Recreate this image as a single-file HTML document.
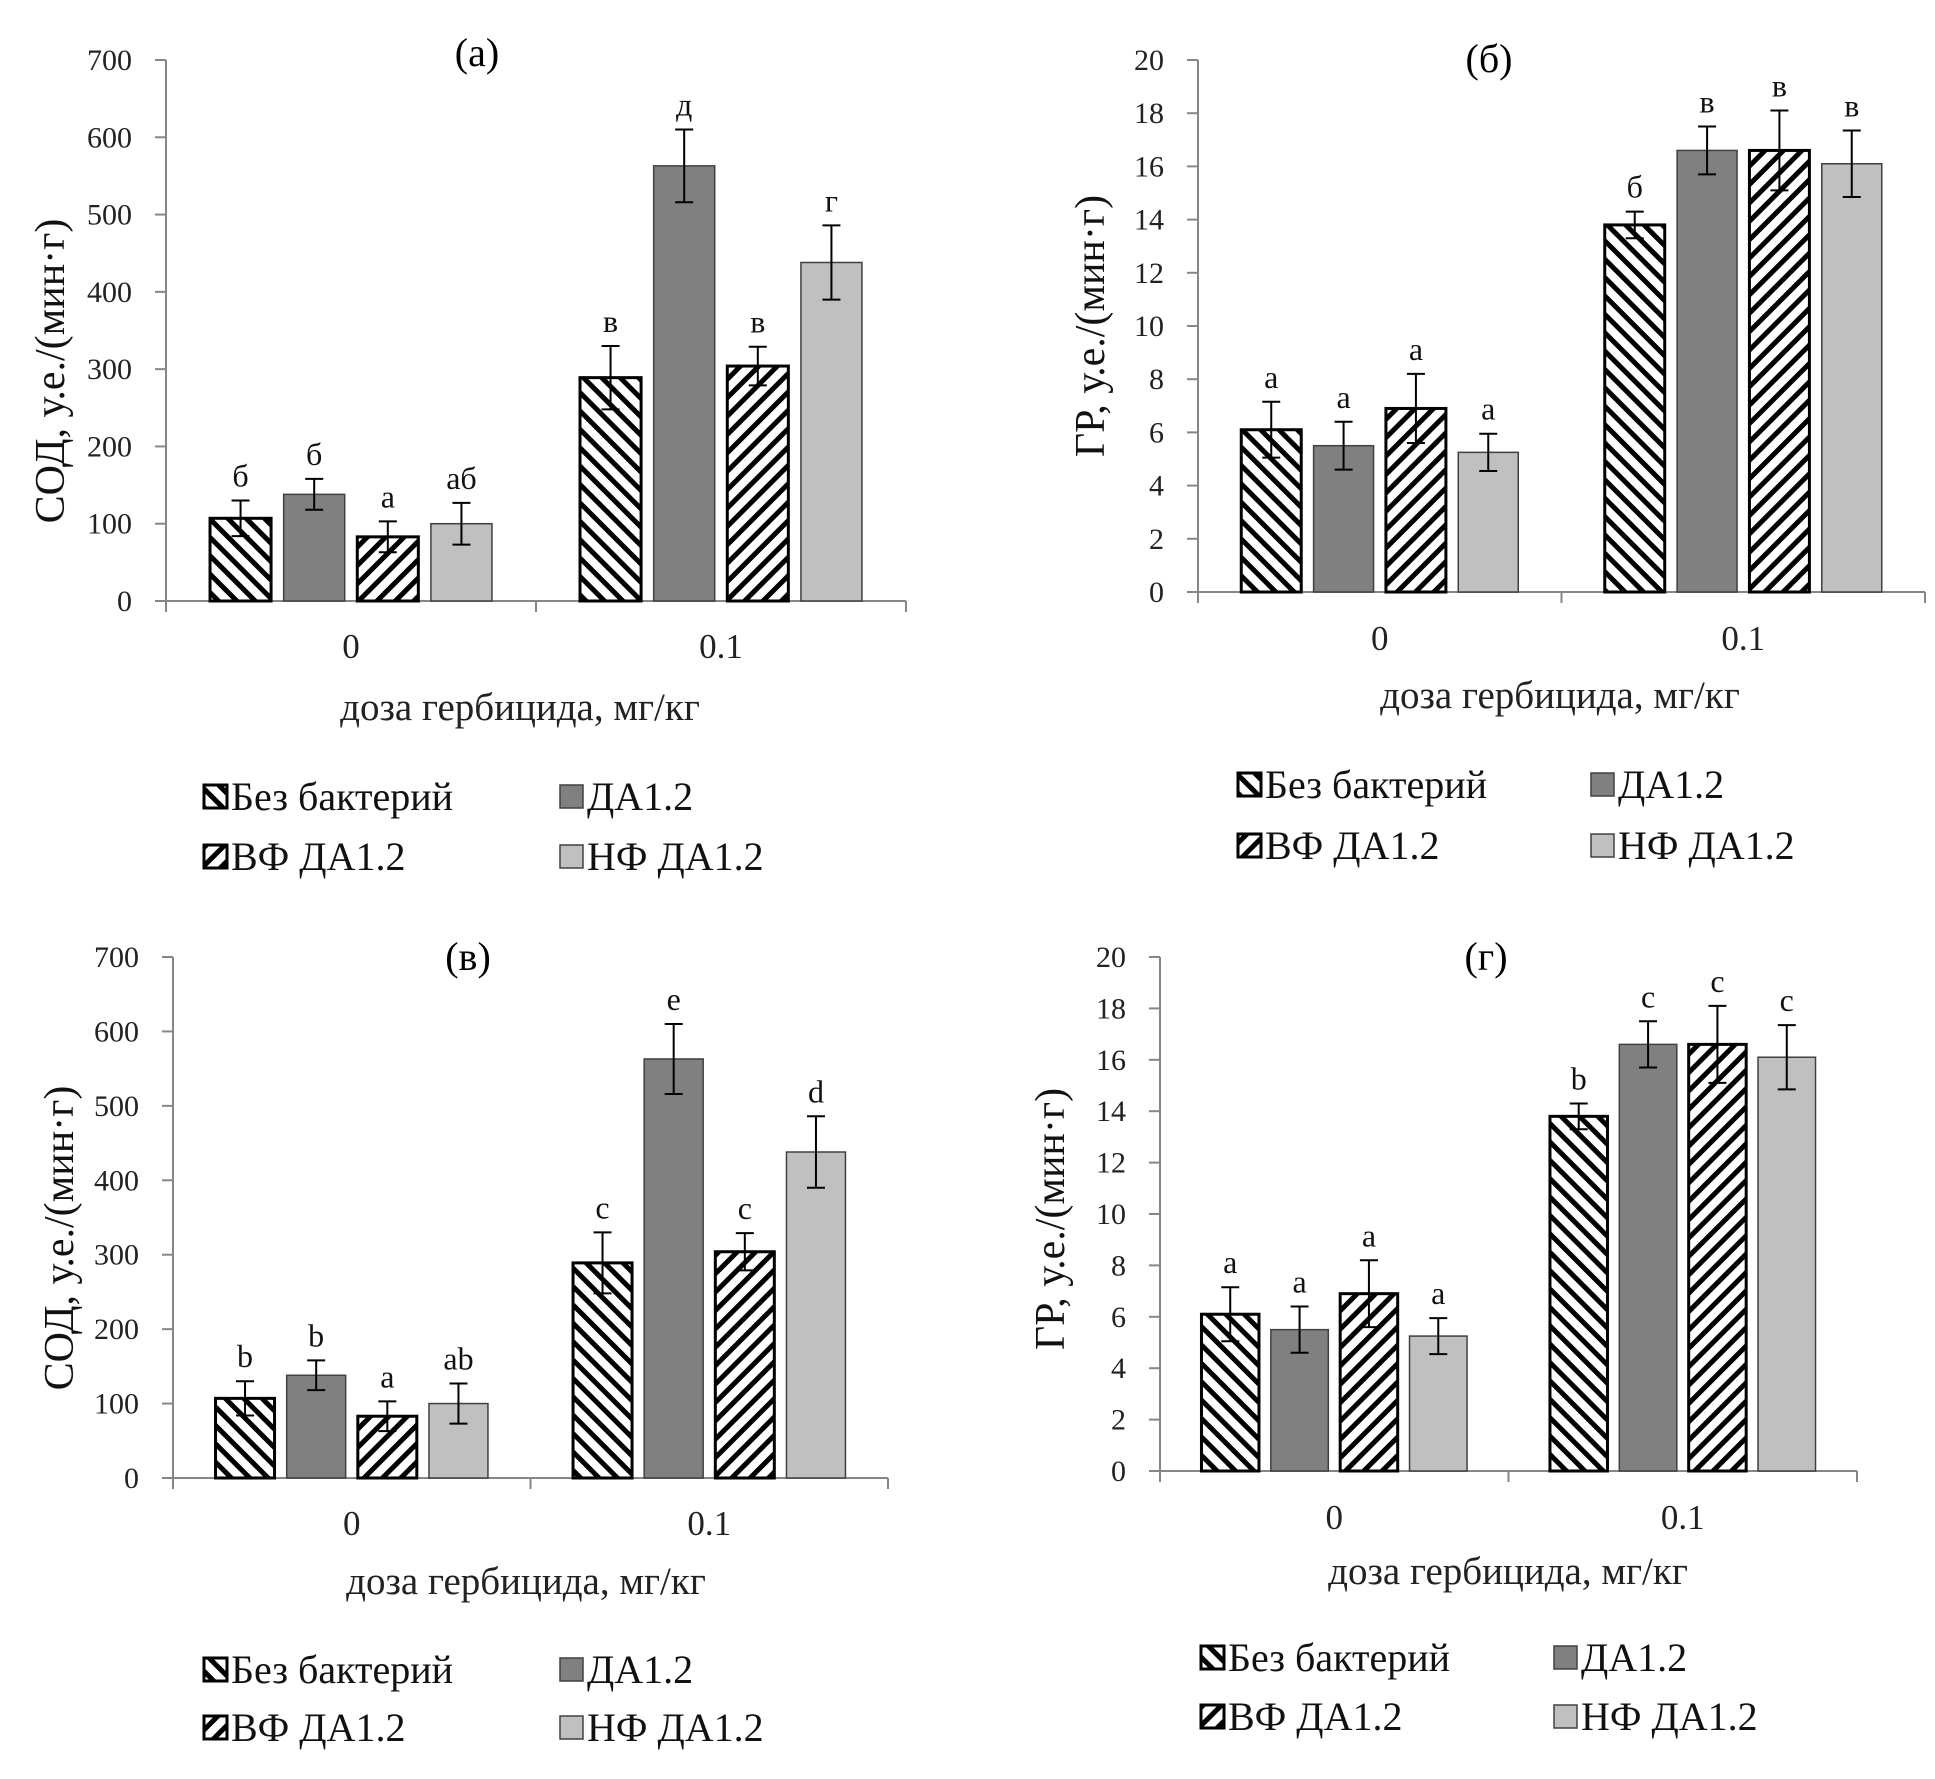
<!DOCTYPE html>
<html><head><meta charset="utf-8"><style>
html,body{margin:0;padding:0;background:#fff;}
svg{display:block;font-family:"Liberation Serif","DejaVu Serif",serif;}
</style></head><body>
<svg id="chart" width="1935" height="1779" viewBox="0 0 1935 1779" xmlns="http://www.w3.org/2000/svg">
<defs>
<pattern id="pBack" patternUnits="userSpaceOnUse" width="13" height="13" patternTransform="rotate(-45)">
<rect width="13" height="13" fill="#fff"/><rect x="0" y="0" width="5" height="13" fill="#000"/></pattern>
<pattern id="pFwd" patternUnits="userSpaceOnUse" width="13" height="13" patternTransform="rotate(45)">
<rect width="13" height="13" fill="#fff"/><rect x="0" y="0" width="5" height="13" fill="#000"/></pattern>
</defs>
</svg>
<script>
const categories = ["0", "0.1"];
const seriesNames = ["Без бактерий", "ДА1.2", "ВФ ДА1.2", "НФ ДА1.2"];
const sodValues = [[107, 138, 83, 100], [289, 563, 304, 438]];
const sodErrors = [[23, 20, 20, 27], [41, 47, 25, 48]];
const grValues = [[6.1, 5.5, 6.9, 5.25], [13.8, 16.6, 16.6, 16.1]];
const grErrors = [[1.05, 0.9, 1.3, 0.7], [0.5, 0.9, 1.5, 1.25]];
const sodTicks = [0, 100, 200, 300, 400, 500, 600, 700];
const grTicks = [0, 2, 4, 6, 8, 10, 12, 14, 16, 18, 20];
const lettersA = [["б", "б", "а", "аб"], ["в", "д", "в", "г"]];
const lettersB = [["а", "а", "а", "а"], ["б", "в", "в", "в"]];
const lettersC = [["b", "b", "a", "ab"], ["c", "e", "c", "d"]];
const lettersD = [["a", "a", "a", "a"], ["b", "c", "c", "c"]];

const svg = document.getElementById('chart');
const NS = 'http://www.w3.org/2000/svg';
function mk(tag, attrs, parent, text) {
  const e = document.createElementNS(NS, tag);
  for (const k in attrs) e.setAttribute(k, attrs[k]);
  if (text !== undefined) e.textContent = text;
  (parent || svg).appendChild(e);
  return e;
}
const fills = ["url(#pBack)", "#808080", "url(#pFwd)", "#c0c0c0"];
const strokes = ["#000", "#404040", "#000", "#404040"];
const strokeW = [3, 1.5, 3, 1.5];

const panels = [
  {id:'a', title:'(а)', tx:477, ty:66, x0:166, x1:906, y0:601, yTop:60, ticks:sodTicks, max:700, vals:sodValues, errs:sodErrors, letters:lettersA,
   ylab:'СОД, у.е./(мин·г)', ylx:50, yly:371, catY:658, xt:'доза гербицида, мг/кг', xtx:520, xty:720, lr1:810, lr2:870, lsx:204, lsx2:560},
  {id:'b', title:'(б)', tx:1489, ty:72, x0:1198, x1:1925, y0:592, yTop:60, ticks:grTicks, max:20, vals:grValues, errs:grErrors, letters:lettersB,
   ylab:'ГР, у.е./(мин·г)', ylx:1090, yly:326, catY:650, xt:'доза гербицида, мг/кг', xtx:1560, xty:708, lr1:798, lr2:859, lsx:1238, lsx2:1591},
  {id:'c', title:'(в)', tx:468, ty:970, x0:173, x1:888, y0:1478, yTop:957, ticks:sodTicks, max:700, vals:sodValues, errs:sodErrors, letters:lettersC,
   ylab:'СОД, у.е./(мин·г)', ylx:59, yly:1238, catY:1535, xt:'доза гербицида, мг/кг', xtx:526, xty:1594, lr1:1683, lr2:1741, lsx:204, lsx2:560},
  {id:'d', title:'(г)', tx:1486, ty:970, x0:1160, x1:1857, y0:1471, yTop:957, ticks:grTicks, max:20, vals:grValues, errs:grErrors, letters:lettersD,
   ylab:'ГР, у.е./(мин·г)', ylx:1050, yly:1219, catY:1529, xt:'доза гербицида, мг/кг', xtx:1508, xty:1584, lr1:1671, lr2:1730, lsx:1201, lsx2:1554}
];

panels.forEach(p => {
  const g = mk('g', {});
  
  
  const yS = v => p.y0 - (v / p.max) * (p.y0 - p.yTop);
  const catW = (p.x1 - p.x0) / categories.length;
  const cx = i => p.x0 + catW * (i + 0.5);
  const bw = catW * 0.165, step = catW * 0.199;

  const t = mk('text', {x:p.tx, y:p.ty, 'font-size':40, 'text-anchor':'middle', fill:'#000'}, g, p.title);
  
  

  const ya = mk('line', {x1:p.x0, y1:p.yTop, x2:p.x0, y2:p.y0, stroke:'#868686', 'stroke-width':2}, g);
  
  
  p.ticks.forEach(v => {
    mk('line', {x1:p.x0 - 11, y1:yS(v), x2:p.x0, y2:yS(v), stroke:'#868686', 'stroke-width':2}, g);
    const tl = mk('text', {x:p.x0 - 34, y:yS(v) + 10, 'font-size':30, 'text-anchor':'end', fill:'#222'}, g, String(v));
    
    
  });
  const xa = mk('line', {x1:p.x0, y1:p.y0, x2:p.x1, y2:p.y0, stroke:'#868686', 'stroke-width':2}, g);
  
  
  for (let i = 0; i <= categories.length; i++) {
    const x = p.x0 + catW * i;
    mk('line', {x1:x, y1:p.y0, x2:x, y2:p.y0 + 11, stroke:'#868686', 'stroke-width':2}, g);
  }
  categories.forEach((c, i) => {
    const cl = mk('text', {x:cx(i), y:p.catY, 'font-size':35, 'text-anchor':'middle', fill:'#222'}, g, c);
    
    
    p.vals[i].forEach((v, s) => {
      const x = cx(i) - 1.5 * step - bw / 2 + s * step;
      const b = mk('rect', {x:x, y:yS(v), width:bw, height:p.y0 - yS(v), fill:fills[s], stroke:strokes[s], 'stroke-width':strokeW[s]}, g);
      
      
      const e = p.errs[i][s], mx = x + bw / 2;
      const eg = mk('g', {stroke:'#000', 'stroke-width':2}, g);
      
      
      mk('line', {x1:mx, y1:yS(v + e), x2:mx, y2:yS(v - e)}, eg);
      mk('line', {x1:mx - 9, y1:yS(v + e), x2:mx + 9, y2:yS(v + e)}, eg);
      mk('line', {x1:mx - 9, y1:yS(v - e), x2:mx + 9, y2:yS(v - e)}, eg);
      const lt = mk('text', {x:mx, y:yS(v + e) - 14, 'font-size':32, 'text-anchor':'middle', fill:'#111'}, g, p.letters[i][s]);
      
      
    });
  });
  const yl = mk('text', {x:0, y:0, 'font-size':42, 'text-anchor':'middle', fill:'#111', transform:`translate(${p.ylx + 14},${p.yly}) rotate(-90)`}, g, p.ylab);
  
  
  const xt = mk('text', {x:p.xtx, y:p.xty, 'font-size':39, 'text-anchor':'middle', fill:'#222'}, g, p.xt);
  
  

  const pos = [[p.lsx, p.lr1], [p.lsx2, p.lr1], [p.lsx, p.lr2], [p.lsx2, p.lr2]];
  seriesNames.forEach((n, s) => {
    const [lx, ly] = pos[s];
    const lg = mk('g', {}, g);
    
    
    mk('rect', {x:lx, y:ly - 25, width:23, height:23, fill:fills[s], stroke:strokes[s], 'stroke-width':strokeW[s]}, lg);
    mk('text', {x:lx + 27, y:ly, 'font-size':40, fill:'#111'}, lg, n);
  });
});
</script>
</body></html>
